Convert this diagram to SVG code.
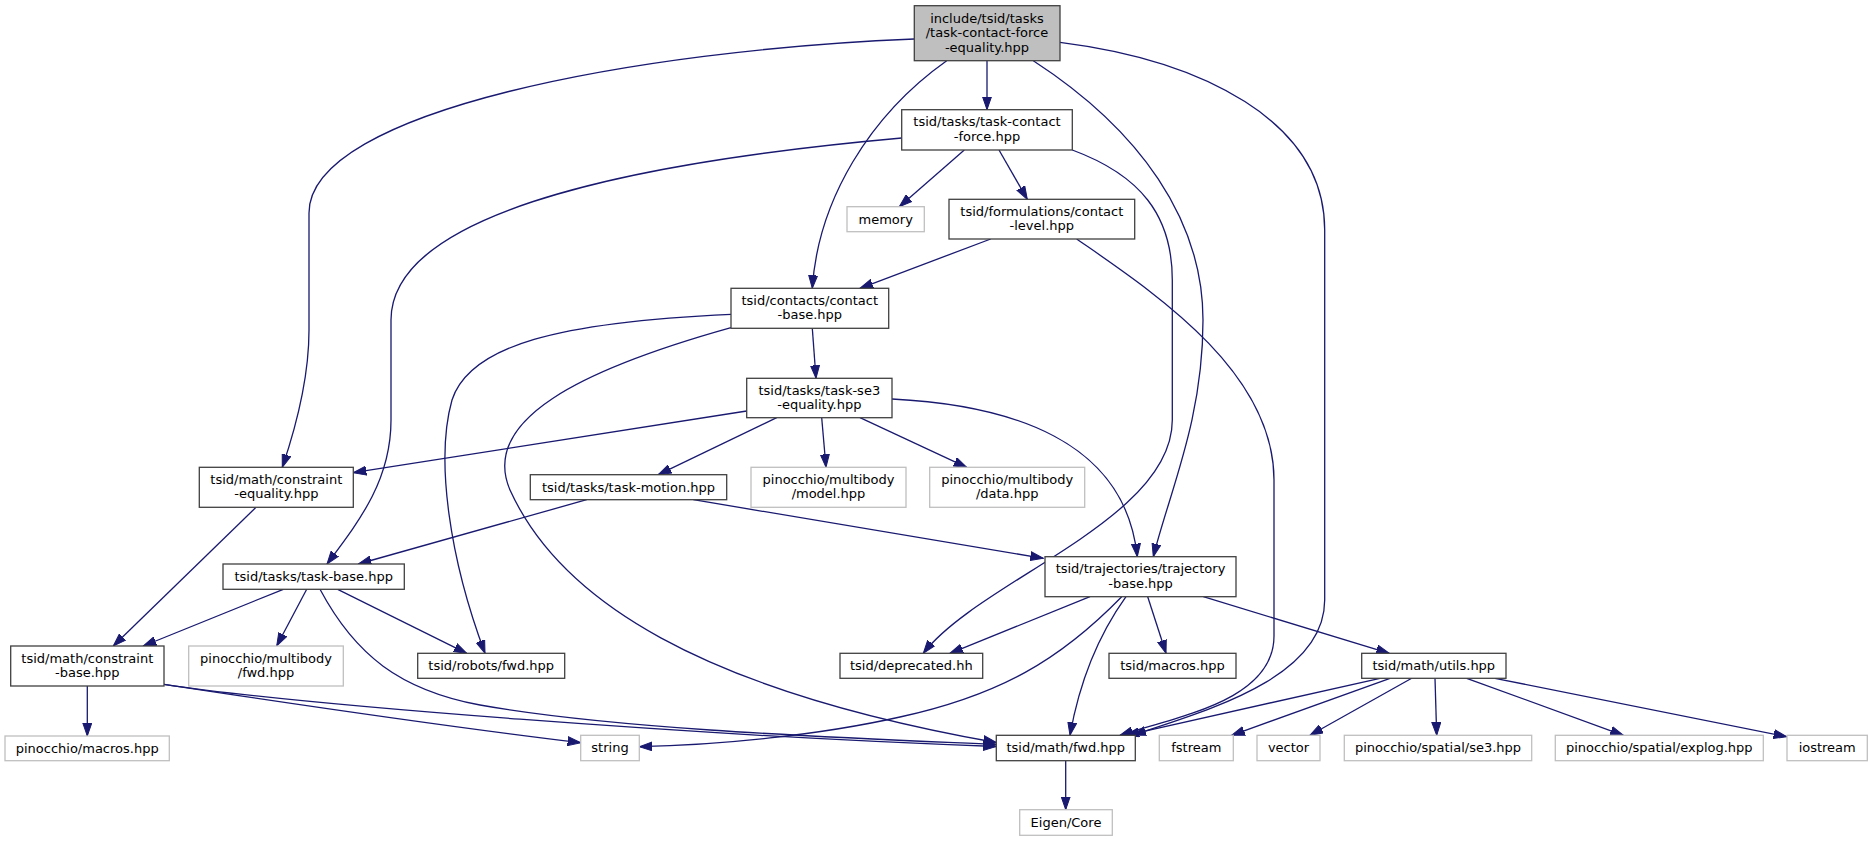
<svg xmlns="http://www.w3.org/2000/svg" width="1873" height="841" viewBox="0 0 1873 841">
<style>
.n rect{fill:#ffffff;stroke:#404040;stroke-width:1.3}
.g rect{fill:#ffffff;stroke:#bfbfbf;stroke-width:1.3}
.r rect{fill:#bfbfbf;stroke:#404040;stroke-width:1.3}
text{font-family:"DejaVu Sans","Liberation Sans",sans-serif;font-size:13px;fill:#000000;text-anchor:middle}
#edges path{fill:none;stroke:#191970;stroke-width:1.3;marker-end:url(#a)}
</style>
<defs>
<marker id="a" markerWidth="14" markerHeight="10" refX="13" refY="5" orient="auto" markerUnits="userSpaceOnUse">
<path d="M0,0.5 L13,5 L0,9.5 z" fill="#191970" stroke="#191970" stroke-width="1"/>
</marker>
</defs>
<rect width="1873" height="841" fill="#ffffff"/>
<g id="edges">
<path d="M987,60.7 L987,109.7"/>
<path d="M914.3,39 C640,50 309,110 309,213 L309,330 C309,380 295,430 282.3,467.3"/>
<path d="M946.7,60.7 C870,115 818,200 812.3,288.3"/>
<path d="M1033.3,60.7 C1140,130 1203,220 1203,320 C1203,420 1170,490 1153.3,556.7"/>
<path d="M1060,42.3 C1200,60 1324.7,120 1324.7,230 L1324.7,600 C1324.7,680 1200,712 1133,735.3"/>
<path d="M964.3,150 L899.3,206.7"/>
<path d="M999,150 L1027.3,199.3"/>
<path d="M901.7,138 C600,165 391,220 391,320 L391,420 C391,480 360,520 327,564"/>
<path d="M1072.3,150 C1140,175 1172.3,215 1172.3,280 L1172.3,420 C1172.3,520 980,580 923.3,653.3"/>
<path d="M990.7,239 L860,288.3"/>
<path d="M1076.7,239 C1150,290 1274,370 1274,480 L1274,636 C1274,700 1180,716 1120,735.3"/>
<path d="M812.3,328.3 L816,378.3"/>
<path d="M731,314.3 C560,322 470,345 452,400 C435,460 450,560 485,653.3"/>
<path d="M731,327.7 C580,370 480,420 510,490 C560,600 700,690 996.3,742.5"/>
<path d="M746.7,411 L353.3,472.7"/>
<path d="M776.7,417.7 L658.3,474.7"/>
<path d="M821.7,417.7 L826,467.3"/>
<path d="M860,417.7 L966.7,467.3"/>
<path d="M892,399 C1010,405 1125,440 1137.3,556.7"/>
<path d="M586.7,499.7 L358.3,564"/>
<path d="M693.3,499.7 L1043.3,558.3"/>
<path d="M256,507.3 L113.3,646"/>
<path d="M283.3,589.3 L143.3,646"/>
<path d="M306.7,589.3 L276.7,646"/>
<path d="M337.7,589.3 L466.7,653.3"/>
<path d="M320,589.3 C355,655 400,690 480,705 C620,730 850,738 996.3,744.5"/>
<path d="M87.3,686 L87.3,736"/>
<path d="M164,684.3 C300,705 450,727 580.7,742.7"/>
<path d="M164,684.3 C300,705 700,736 996.3,746.5"/>
<path d="M1090,596.7 L950,653.3"/>
<path d="M1121.7,596.7 C1060,660 1000,695 900,717 C820,735 720,745 639.3,746.7"/>
<path d="M1126,596.7 C1095,640 1078,690 1070,735.3"/>
<path d="M1147.7,596.7 L1166,653.3"/>
<path d="M1203.3,596.7 L1389.3,653.3"/>
<path d="M1380,678.3 L1126,735.3"/>
<path d="M1390,678.3 L1231.7,735.3"/>
<path d="M1411.7,678.3 L1310,735.3"/>
<path d="M1435,678.3 L1436.7,735.3"/>
<path d="M1466.7,678.3 L1623.3,735.3"/>
<path d="M1495,678.3 L1786.7,736.7"/>
<path d="M1065.7,760.7 L1065.7,809.7"/>
</g>
<g id="root" class="r"><rect x="914.3" y="5.7" width="145.7" height="55"/><text x="987" y="22.5">include/tsid/tasks</text><text x="987" y="37">/task-contact-force</text><text x="987" y="51.5">-equality.hpp</text></g>
<g id="task-contact-force" class="n"><rect x="901.7" y="109.7" width="170.6" height="40.3"/><text x="987" y="126.3">tsid/tasks/task-contact</text><text x="987" y="140.8">-force.hpp</text></g>
<g id="memory" class="g"><rect x="847" y="206.7" width="77.3" height="25"/><text x="885.7" y="223.7">memory</text></g>
<g id="contact-level" class="n"><rect x="949" y="199.3" width="185.7" height="39.7"/><text x="1041.8" y="215.7">tsid/formulations/contact</text><text x="1041.8" y="230.2">-level.hpp</text></g>
<g id="contact-base" class="n"><rect x="731" y="288.3" width="157.7" height="40"/><text x="809.8" y="304.8">tsid/contacts/contact</text><text x="809.8" y="319.3">-base.hpp</text></g>
<g id="task-se3-equality" class="n"><rect x="746.7" y="378.3" width="145.3" height="39.4"/><text x="819.3" y="394.5">tsid/tasks/task-se3</text><text x="819.3" y="409">-equality.hpp</text></g>
<g id="constraint-equality" class="n"><rect x="199.3" y="467.3" width="154" height="40"/><text x="276.3" y="483.8">tsid/math/constraint</text><text x="276.3" y="498.3">-equality.hpp</text></g>
<g id="task-motion" class="n"><rect x="530.3" y="474.7" width="196.4" height="25"/><text x="628.5" y="491.7">tsid/tasks/task-motion.hpp</text></g>
<g id="model" class="g"><rect x="751" y="467.3" width="155" height="40"/><text x="828.5" y="483.8">pinocchio/multibody</text><text x="828.5" y="498.3">/model.hpp</text></g>
<g id="data" class="g"><rect x="929.7" y="467.3" width="155" height="40"/><text x="1007.2" y="483.8">pinocchio/multibody</text><text x="1007.2" y="498.3">/data.hpp</text></g>
<g id="task-base" class="n"><rect x="223" y="564" width="181.3" height="25.3"/><text x="313.7" y="581.1">tsid/tasks/task-base.hpp</text></g>
<g id="trajectory-base" class="n"><rect x="1045" y="556.7" width="191" height="40"/><text x="1140.5" y="573.2">tsid/trajectories/trajectory</text><text x="1140.5" y="587.7">-base.hpp</text></g>
<g id="constraint-base" class="n"><rect x="10.7" y="646" width="153.3" height="40"/><text x="87.3" y="662.5">tsid/math/constraint</text><text x="87.3" y="677">-base.hpp</text></g>
<g id="multibody-fwd" class="g"><rect x="188.7" y="646" width="154.6" height="40"/><text x="266" y="662.5">pinocchio/multibody</text><text x="266" y="677">/fwd.hpp</text></g>
<g id="robots-fwd" class="n"><rect x="417.7" y="653.3" width="147" height="25"/><text x="491.2" y="670.3">tsid/robots/fwd.hpp</text></g>
<g id="deprecated" class="n"><rect x="840" y="653.3" width="142.7" height="25"/><text x="911.3" y="670.3">tsid/deprecated.hh</text></g>
<g id="tsid-macros" class="n"><rect x="1109" y="653.3" width="127" height="25"/><text x="1172.5" y="670.3">tsid/macros.hpp</text></g>
<g id="utils" class="n"><rect x="1361.7" y="653.3" width="144.3" height="25"/><text x="1433.8" y="670.3">tsid/math/utils.hpp</text></g>
<g id="pinocchio-macros" class="g"><rect x="5" y="736" width="164.3" height="24.7"/><text x="87.2" y="752.8">pinocchio/macros.hpp</text></g>
<g id="string" class="g"><rect x="580.7" y="735.3" width="58.6" height="25.4"/><text x="610" y="752.4">string</text></g>
<g id="math-fwd" class="n"><rect x="996.3" y="735.3" width="139" height="25.4"/><text x="1065.8" y="752.4">tsid/math/fwd.hpp</text></g>
<g id="fstream" class="g"><rect x="1159.3" y="735.3" width="74" height="25.4"/><text x="1196.3" y="752.4">fstream</text></g>
<g id="vector" class="g"><rect x="1257" y="735.3" width="63" height="25.4"/><text x="1288.5" y="752.4">vector</text></g>
<g id="se3" class="g"><rect x="1344.3" y="735.3" width="187.4" height="25.4"/><text x="1438" y="752.4">pinocchio/spatial/se3.hpp</text></g>
<g id="explog" class="g"><rect x="1555.3" y="735.3" width="208" height="25.4"/><text x="1659.3" y="752.4">pinocchio/spatial/explog.hpp</text></g>
<g id="iostream" class="g"><rect x="1787" y="735.3" width="80.3" height="25.4"/><text x="1827.2" y="752.4">iostream</text></g>
<g id="eigen-core" class="g"><rect x="1019.7" y="809.7" width="92.6" height="25.6"/><text x="1066" y="826.9">Eigen/Core</text></g>
</svg>
